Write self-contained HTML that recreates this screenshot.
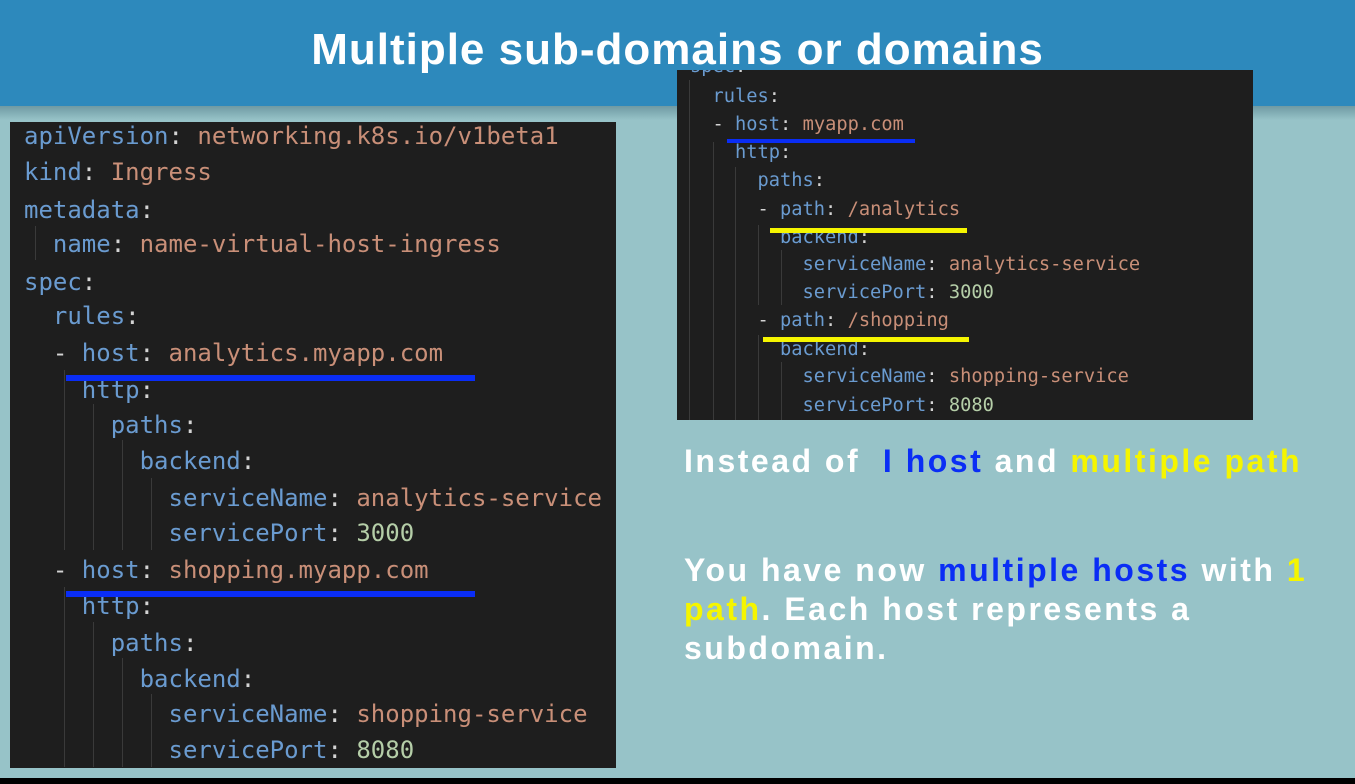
<!DOCTYPE html>
<html><head><meta charset="utf-8"><style>
body{margin:0;width:1355px;height:784px;overflow:hidden;background:#97c3c8;position:relative;font-family:"Liberation Sans",sans-serif}
.hdr{position:absolute;left:0;top:0;width:1355px;height:106px;background:#2d89bc}
.sh{position:absolute;left:0;top:106px;width:1355px;height:14px;background:linear-gradient(#6f9aa3,#97c3c8)}
.title{position:absolute;left:0;width:1355px;top:25px;text-align:center;color:#fff;font-weight:bold;font-size:44px;letter-spacing:1px}
.box{position:absolute;background:#1e1e1e}
.l{position:absolute;white-space:pre;font-family:"DejaVu Sans Mono",monospace;color:#6a9bd0}
.L .l{font-size:24px;line-height:36px;left:24px}
.R .l{font-size:18.7px;line-height:28px;left:13px}
.v{color:#c98f78}.n{color:#b5cea8}.p{color:#d4d4d4}
.u{position:absolute}
.t{position:absolute;left:684px;color:#fff;font-weight:bold;font-size:32px;line-height:39px;letter-spacing:2.5px;white-space:nowrap}
.b{color:#0a2df5}.y{color:#f5f500}
.g{position:absolute;width:1px;background:#3a3a3a}
</style></head><body>
<div class="hdr"></div><div class="sh"></div>
<div class="title">Multiple sub-domains or domains</div>

<div class="box L" style="left:10px;top:122px;width:606px;height:646px">
<div class="g" style="left:25px;top:104px;height:34px"></div>
<div class="g" style="left:54px;top:248px;height:180px"></div>
<div class="g" style="left:54px;top:465px;height:180px"></div>
<div class="g" style="left:83px;top:282px;height:146px"></div>
<div class="g" style="left:83px;top:500px;height:145px"></div>
<div class="g" style="left:112px;top:318px;height:110px"></div>
<div class="g" style="left:112px;top:536px;height:109px"></div>
<div class="g" style="left:141px;top:356px;height:72px"></div>
<div class="g" style="left:141px;top:572px;height:73px"></div>
<div class="l" style="left:14px;top:-4px">apiVersion<span class="p">:</span> <span class="v">networking.k8s.io/v1beta1</span></div>
<div class="l" style="left:14px;top:32px">kind<span class="p">:</span> <span class="v">Ingress</span></div>
<div class="l" style="left:14px;top:70px">metadata<span class="p">:</span></div>
<div class="l" style="left:14px;top:104px">  name<span class="p">:</span> <span class="v">name-virtual-host-ingress</span></div>
<div class="l" style="left:14px;top:142px">spec<span class="p">:</span></div>
<div class="l" style="left:14px;top:176px">  rules<span class="p">:</span></div>
<div class="l" style="left:14px;top:213px">  <span class="p">-</span> host<span class="p">:</span> <span class="v">analytics.myapp.com</span></div>
<div class="l" style="left:14px;top:250px">    http<span class="p">:</span></div>
<div class="l" style="left:14px;top:285px">      paths<span class="p">:</span></div>
<div class="l" style="left:14px;top:321px">        backend<span class="p">:</span></div>
<div class="l" style="left:14px;top:358px">          serviceName<span class="p">:</span> <span class="v">analytics-service</span></div>
<div class="l" style="left:14px;top:393px">          servicePort<span class="p">:</span> <span class="n">3000</span></div>
<div class="l" style="left:14px;top:430px">  <span class="p">-</span> host<span class="p">:</span> <span class="v">shopping.myapp.com</span></div>
<div class="l" style="left:14px;top:466px">    http<span class="p">:</span></div>
<div class="l" style="left:14px;top:503px">      paths<span class="p">:</span></div>
<div class="l" style="left:14px;top:539px">        backend<span class="p">:</span></div>
<div class="l" style="left:14px;top:574px">          serviceName<span class="p">:</span> <span class="v">shopping-service</span></div>
<div class="l" style="left:14px;top:610px">          servicePort<span class="p">:</span> <span class="n">8080</span></div>
</div>
<div class="u" style="left:66px;top:375px;width:409px;height:6px;background:#0a2df5"></div>
<div class="u" style="left:66px;top:591px;width:409px;height:6px;background:#0a2df5"></div>

<div class="box R" style="left:677px;top:70px;width:576px;height:350px;overflow:hidden">
<div class="g" style="left:12px;top:10px;height:340px"></div>
<div class="g" style="left:36px;top:72px;height:278px"></div>
<div class="g" style="left:58px;top:97px;height:253px"></div>
<div class="g" style="left:81px;top:155px;height:80px"></div>
<div class="g" style="left:81px;top:265px;height:85px"></div>
<div class="g" style="left:104px;top:180px;height:55px"></div>
<div class="g" style="left:104px;top:292px;height:58px"></div>
<div class="l" style="top:-17px">spec<span class="p">:</span></div>
<div class="l" style="top:13px">  rules<span class="p">:</span></div>
<div class="l" style="top:41px">  <span class="p">-</span> host<span class="p">:</span> <span class="v">myapp.com</span></div>
<div class="l" style="top:69px">    http<span class="p">:</span></div>
<div class="l" style="top:97px">      paths<span class="p">:</span></div>
<div class="l" style="top:126px">      <span class="p">-</span> path<span class="p">:</span> <span class="v">/analytics</span></div>
<div class="l" style="top:154px">        backend<span class="p">:</span></div>
<div class="l" style="top:181px">          serviceName<span class="p">:</span> <span class="v">analytics-service</span></div>
<div class="l" style="top:209px">          servicePort<span class="p">:</span> <span class="n">3000</span></div>
<div class="l" style="top:237px">      <span class="p">-</span> path<span class="p">:</span> <span class="v">/shopping</span></div>
<div class="l" style="top:266px">        backend<span class="p">:</span></div>
<div class="l" style="top:293px">          serviceName<span class="p">:</span> <span class="v">shopping-service</span></div>
<div class="l" style="top:322px">          servicePort<span class="p">:</span> <span class="n">8080</span></div>
</div>
<div class="u" style="left:727px;top:139px;width:188px;height:4px;background:#0a2df5"></div>
<div class="u" style="left:770px;top:228px;width:197px;height:5px;background:#f5f500"></div>
<div class="u" style="left:763px;top:337px;width:206px;height:5px;background:#f5f500"></div>

<div class="t" style="top:442px">Instead of &nbsp;<span class="b">I host</span> and <span class="y">multiple path</span></div>
<div class="t" style="top:551px">You have now <span class="b">multiple hosts</span> with <span class="y">1</span><br><span class="y">path</span>. Each host represents a<br>subdomain.</div>

<div class="u" style="left:0;top:778px;width:1355px;height:6px;background:#000"></div>
</body></html>
